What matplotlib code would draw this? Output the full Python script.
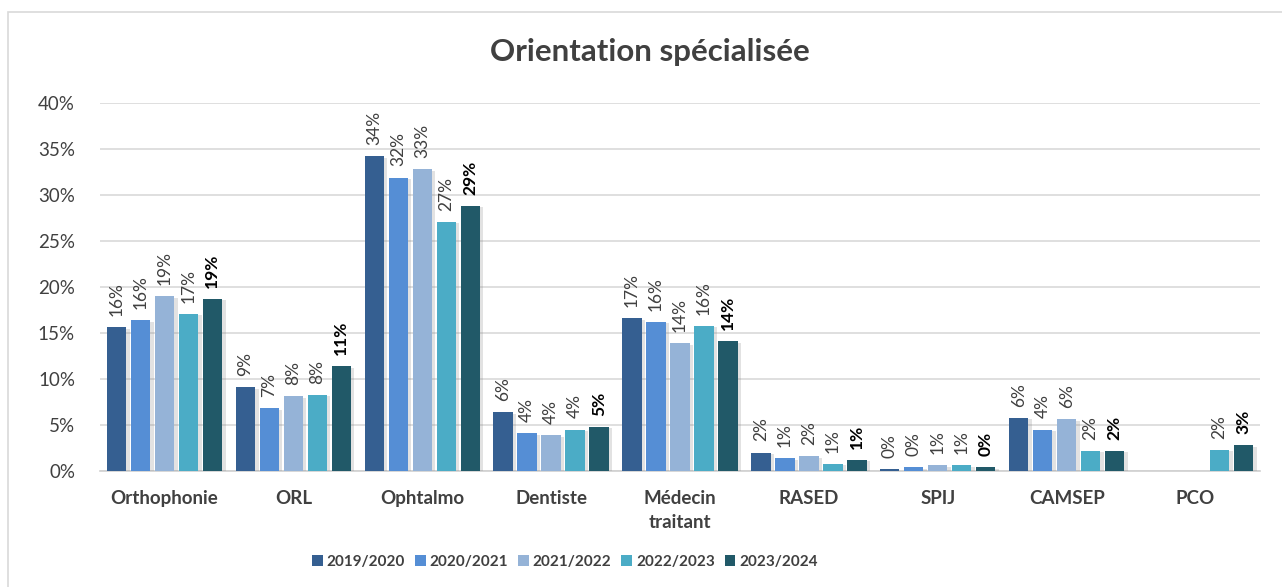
import matplotlib
matplotlib.use("Agg")
import matplotlib.pyplot as plt
import matplotlib.patheffects as pe
from matplotlib.patches import Rectangle, Patch
import numpy as np

categories = ["Orthophonie", "ORL", "Ophtalmo", "Dentiste", "Médecin\ntraitant",
              "RASED", "SPIJ", "CAMSEP", "PCO"]
series = ["2019/2020", "2020/2021", "2021/2022", "2022/2023", "2023/2024"]
v2019 = [15.6, 9.1, 34.2, 6.4, 16.6, 2.0, 0.2, 5.8, None]
v2020 = [16.4, 6.8, 31.9, 4.1, 16.2, 1.4, 0.4, 4.5, None]
v2021 = [19.0, 8.1, 32.8, 3.9, 13.9, 1.6, 0.6, 5.6, None]
v2022 = [17.1, 8.3, 27.1, 4.5, 15.8, 0.8, 0.6, 2.2, 2.3]
v2023 = [18.7, 11.4, 28.8, 4.8, 14.1, 1.2, 0.4, 2.2, 2.8]
values = [v2019, v2020, v2021, v2022, v2023]
colors = ["#355F91", "#558ED5", "#95B3D7", "#4BACC6", "#215968"]
yticks = [0, 5, 10, 15, 20, 25, 30, 35, 40]

FONT = "Lato"
W, H = 1282, 587
fig = plt.figure(figsize=(W / 100, H / 100), dpi=100)
fig.patches.append(Rectangle((8 / W, -0.1), 1.2, 1 - 12 / H + 0.1, transform=fig.transFigure,
                             fill=False, edgecolor="#D9D9D9", linewidth=1.2))

ax = fig.add_axes([100 / W, 1 - 471 / H, 1160 / W, (471 - 103) / H])
x = np.arange(len(categories))
pitch = 0.186
width = 0.15
for i, (vals, col, name) in enumerate(zip(values, colors, series)):
    off = (i - 2) * pitch
    xs = [xx + off for xx, v in zip(x, vals) if v is not None]
    vs = [v for v in vals if v is not None]
    bars = ax.bar(xs, vs, width=width, color=col, zorder=3)
    for b in bars:
        b.set_path_effects([pe.SimplePatchShadow(offset=(2.5, -1), shadow_rgbFace="#7F7F7F", alpha=0.22),
                            pe.Normal()])
    last = (i == len(series) - 1)
    for xx, v in zip(xs, vs):
        ax.annotate(f"{round(v):.0f}%", (xx, v), xytext=(0, 8), textcoords="offset points",
                    rotation=90, ha="center", va="bottom", fontsize=12.5, family=FONT,
                    color="#000000" if last else "#404040",
                    fontweight="bold" if last else "normal", zorder=4)

ax.set_xlim(-0.5, len(categories) - 0.5)
ax.set_ylim(0, 40)
ax.set_yticks(yticks)
ax.set_yticklabels([f"{t}%" for t in yticks], family=FONT, fontsize=13.5, color="#404040")
ax.set_xticks(x)
ax.set_xticklabels(categories, family=FONT, fontsize=13.5, fontweight="bold", color="#404040",
                   linespacing=1.5, va="top")
ax.tick_params(axis="both", length=0)
ax.tick_params(axis="y", pad=18)
ax.tick_params(axis="x", pad=14)
ax.grid(axis="y", color="#D9D9D9", linewidth=1.2, zorder=0)
for s in ["top", "right", "left"]:
    ax.spines[s].set_visible(False)
ax.spines["bottom"].set_color("#D0D0D0")
ax.spines["bottom"].set_linewidth(1.2)

fig.text(650 / W, 1 - 52 / H, "Orientation spécialisée", ha="center", va="center",
         family=FONT, fontsize=22.5, fontweight="bold", color="#404040")

handles = [Patch(facecolor=c, edgecolor="none") for c in colors]
leg = fig.legend(handles, series, loc="center", bbox_to_anchor=(565 / W, 1 - 562 / H), ncol=5,
                 frameon=False, handlelength=0.7, handleheight=0.7, handletextpad=0.25,
                 columnspacing=0.65, prop={"family": FONT, "size": 11, "weight": "bold"})
for t in leg.get_texts():
    t.set_color("#404040")

fig.savefig("out.png", dpi=100)
